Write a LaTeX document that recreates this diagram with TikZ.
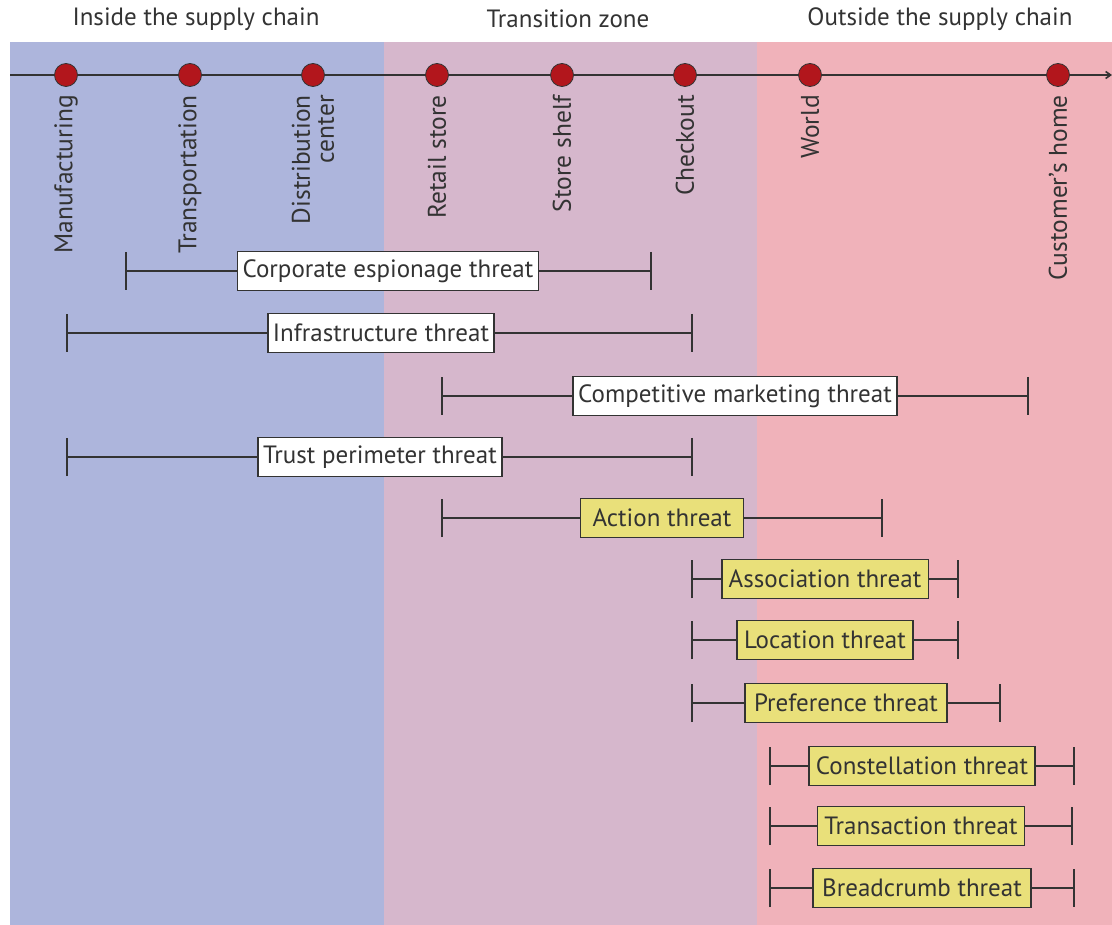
\documentclass[tikz,border=0pt]{standalone}
\usepackage{fontspec}
\setmainfont{PT Sans}
\usetikzlibrary{arrows.meta}
\definecolor{zoneA}{HTML}{ADB5DC}
\definecolor{zoneB}{HTML}{D6B7CC}
\definecolor{zoneC}{HTML}{F0B2BA}
\definecolor{dotred}{HTML}{B2161C}
\definecolor{ink}{HTML}{333333}
\definecolor{boxyellow}{HTML}{E9E07A}
\tikzset{tickend/.tip={Bar[width=38pt, line width=1.6pt]}}
\begin{document}
\begin{tikzpicture}[x=1pt,y=-1pt,
  every node/.style={text=ink},
  head/.style={font=\fontsize{25}{28}\selectfont, anchor=center},
  stop/.style={circle, fill=dotred, draw=ink, line width=0.8pt, minimum size=23pt, inner sep=0pt},
  place/.style={rotate=90, anchor=east, align=right, font=\fontsize{25.5}{24}\selectfont, inner sep=0pt},
  threat/.style={draw=ink, line width=1.6pt, fill=white, minimum height=39pt, inner xsep=5pt, inner ysep=0pt, font=\fontsize{25}{28}\selectfont},
  privthreat/.style={threat, fill=boxyellow, inner xsep=7pt},
  span/.style={draw=ink, line width=1.6pt}
]
\useasboundingbox (0,0) rectangle (1112,925);
% zones
\fill[zoneA] (10,42) rectangle (384,925);
\fill[zoneB] (384,42) rectangle (757,925);
\fill[zoneC] (757,42) rectangle (1112,925);
% headers
\node[head] (hA) at (196,19) {Inside the supply chain};
\node[head] (hB) at (568,19) {Transition zone};
\node[head] (hC) at (940,19) {Outside the supply chain};
% timeline
\coordinate (tstart) at (10,75);
\coordinate (tend) at (1112,75);
\draw[ink, line width=1.6pt, -{Straight Barb[length=5pt,width=7pt]}] (tstart) -- (tend);
\foreach \n/\x in {m/66,t/190,d/313,r/437,s/562,c/685,w/810,h/1058}{
  \node[stop] (p\n) at (\x,75) {};
}
\node[place] (lm) at (66,95) {Manufacturing};
\node[place] (lt) at (190,95) {Transportation};
\node[place] (ld) at (313,95) {Distribution\\center};
\node[place] (lr) at (437,95) {Retail store};
\node[place] (ls) at (562,95) {Store shelf};
\node[place] (lc) at (685,95) {Checkout};
\node[place] (lw) at (810,95) {World};
\node[place] (lh) at (1058,95) {Customer's home};
% threats
\newcommand{\threatbar}[7]{%
  \coordinate (#1L) at (#2,#4);
  \coordinate (#1R) at (#3,#4);
  \node[#6] (#1) at (#5,#4) {#7};
  \draw[span, {tickend}-] (#1L) -- (#1.west);
  \draw[span, -{tickend}] (#1.east) -- (#1R);
}
\threatbar{ce}{125}{652}{271}{388}{threat}{Corporate espionage threat}
\threatbar{in}{66}{693}{333}{381}{threat}{Infrastructure threat}
\threatbar{cm}{441}{1029}{396}{735}{threat}{Competitive marketing threat}
\threatbar{tp}{66}{693}{457}{380}{threat}{Trust perimeter threat}
\threatbar{ac}{441}{883}{518}{662}{privthreat, inner xsep=12pt}{Action threat}
\threatbar{as}{691}{959}{579}{825}{privthreat}{Association threat}
\threatbar{lo}{691}{959}{640}{825}{privthreat}{Location threat}
\threatbar{pr}{691}{1001}{703}{846}{privthreat, inner xsep=9pt}{Preference threat}
\threatbar{co}{769}{1075}{766}{922}{privthreat}{Constellation threat}
\threatbar{tr}{769}{1073}{826}{921}{privthreat}{Transaction threat}
\threatbar{br}{769}{1075}{888}{922}{privthreat, inner xsep=9pt}{Breadcrumb threat}
\end{tikzpicture}
\end{document}
